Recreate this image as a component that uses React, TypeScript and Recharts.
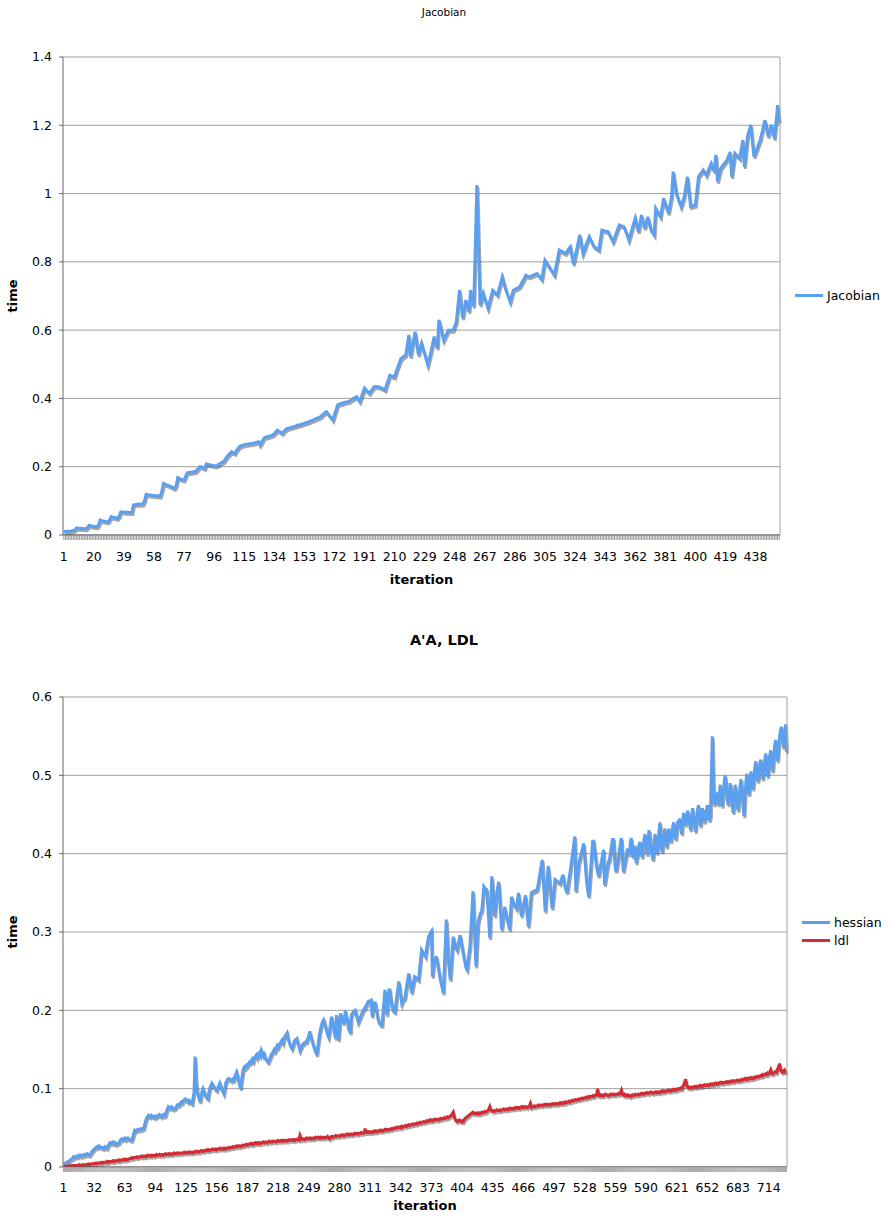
import React from "react";
import { LineChart, Line, XAxis, YAxis, CartesianGrid, Legend } from "recharts";

const FONT = "'DejaVu Sans', Verdana, sans-serif";
const BLUE = "#5a9ff0";
const RED = "#d42a33";

// times in milliseconds, one value per iteration
const jacobianMs = [
  10, 10, 11, 10, 11, 12, 13, 15, 21, 20,
  19, 20, 19, 18, 18, 22, 28, 27, 26, 25,
  25, 24, 30, 44, 42, 41, 40, 39, 39, 45,
  54, 52, 51, 50, 49, 55, 68, 67, 67, 66,
  67, 66, 66, 66, 88, 89, 90, 90, 91, 90,
  91, 100, 119, 118, 117, 117, 116, 116, 115, 115,
  114, 114, 130, 151, 149, 147, 145, 143, 141, 139,
  137, 145, 168, 166, 164, 162, 161, 172, 182, 183,
  184, 184, 185, 185, 190, 195, 200, 199, 197, 195,
  208, 207, 206, 205, 204, 203, 202, 204, 207, 210,
  213, 215, 222, 229, 234, 239, 244, 241, 239, 247,
  253, 259, 261, 263, 264, 266, 266, 267, 267, 268,
  269, 270, 272, 273, 264, 272, 280, 286, 287, 288,
  290, 291, 293, 297, 302, 307, 304, 301, 298, 303,
  308, 312, 313, 314, 316, 317, 318, 320, 322, 322,
  324, 326, 327, 329, 330, 332, 334, 336, 338, 340,
  342, 344, 346, 350, 354, 358, 361, 355, 349, 343,
  337, 352, 366, 381, 383, 385, 386, 388, 389, 390,
  391, 394, 397, 400, 402, 405, 398, 391, 404, 417,
  430, 425, 420, 415, 421, 427, 434, 434, 434, 434,
  432, 430, 428, 425, 440, 454, 468, 466, 464, 463,
  478, 491, 504, 517, 520, 524, 527, 556, 586, 522,
  546, 571, 595, 561, 527, 544, 561, 545, 530, 514,
  498, 517, 537, 559, 581, 564, 547, 630, 611, 591,
  571, 581, 590, 600, 600, 600, 600, 612, 624, 670,
  717, 676, 635, 661, 688, 671, 654, 717, 693, 669,
  847, 1025, 849, 673, 690, 708, 693, 679, 664, 682,
  700, 717, 712, 708, 703, 721, 738, 756, 739, 722,
  709, 696, 683, 700, 717, 719, 722, 724, 727, 735,
  744, 752, 761, 758, 756, 758, 760, 762, 764, 766,
  760, 755, 749, 777, 805, 798, 790, 783, 776, 768,
  761, 786, 810, 835, 832, 830, 827, 825, 831, 838,
  844, 818, 793, 815, 836, 858, 879, 852, 825, 837,
  850, 862, 874, 864, 854, 844, 841, 838, 835, 864,
  893, 892, 890, 889, 888, 878, 869, 859, 871, 884,
  896, 908, 906, 904, 903, 890, 877, 864, 880, 896,
  912, 928, 908, 888, 912, 937, 918, 898, 915, 932,
  912, 893, 886, 879, 957, 949, 940, 932, 959, 986,
  971, 957, 942, 966, 991, 1064, 1032, 1000, 987, 975,
  962, 976, 991, 1020, 1049, 1005, 962, 963, 965, 966,
  1008, 1049, 1056, 1062, 1069, 1062, 1054, 1065, 1077, 1088,
  1076, 1064, 1113, 1035, 1055, 1074, 1080, 1086, 1092, 1098,
  1110, 1122, 1049, 1084, 1118, 1113, 1108, 1103, 1130, 1157,
  1078, 1123, 1167, 1184, 1201, 1155, 1108, 1120, 1132, 1145,
  1157, 1176, 1196, 1215, 1191, 1167, 1184, 1201, 1181, 1161,
  1210, 1259, 1210,
];

const hessianMs = [
  4, 4, 5, 6, 6, 7, 8, 9, 10, 11,
  13, 12, 13, 14, 13, 14, 15, 14, 15, 14,
  15, 16, 15, 16, 17, 16, 15, 16, 18, 20,
  21, 23, 24, 25, 26, 25, 27, 26, 25, 24,
  25, 24, 26, 25, 24, 27, 29, 31, 30, 31,
  32, 30, 31, 29, 30, 30, 31, 33, 35, 36,
  35, 36, 37, 35, 36, 37, 36, 35, 34, 34,
  38, 43, 47, 46, 47, 48, 47, 48, 49, 48,
  49, 49, 54, 59, 62, 64, 66, 65, 64, 66,
  65, 64, 63, 65, 64, 65, 66, 67, 65, 64,
  66, 67, 65, 66, 70, 74, 77, 76, 75, 77,
  76, 74, 75, 75, 77, 79, 80, 79, 81, 83,
  82, 84, 86, 87, 86, 84, 83, 85, 83, 82,
  81, 88, 95, 141, 110, 98, 92, 88, 83, 90,
  96, 100, 97, 93, 90, 88, 87, 95, 101, 104,
  107, 105, 103, 100, 99, 98, 101, 104, 107, 103,
  99, 97, 94, 101, 107, 110, 112, 113, 112, 111,
  110, 112, 111, 114, 118, 121, 116, 110, 105, 100,
  111, 119, 126, 128, 127, 130, 129, 132, 134, 133,
  136, 138, 135, 139, 141, 143, 140, 144, 146, 143,
  149, 146, 142, 144, 139, 137, 135, 134, 137, 140,
  143, 145, 147, 150, 148, 152, 155, 153, 156, 158,
  160, 162, 159, 164, 167, 169, 171, 165, 160, 156,
  153, 151, 155, 159, 162, 163, 164, 158, 154, 149,
  152, 155, 157, 158, 159, 160, 160, 164, 168, 173,
  168, 163, 158, 154, 150, 147, 143, 153, 162, 171,
  177, 182, 186, 188, 184, 179, 173, 169, 166, 174,
  183, 192, 185, 178, 170, 164, 194, 178, 162, 179,
  196, 192, 187, 183, 191, 200, 186, 191, 177, 175,
  171, 194, 196, 198, 199, 200, 194, 190, 185, 188,
  191, 194, 197, 200, 202, 204, 206, 208, 211, 212,
  212, 213, 192, 200, 206, 211, 203, 196, 189, 184,
  183, 181, 181, 196, 211, 226, 210, 194, 210, 226,
  226, 214, 206, 200, 199, 198, 208, 218, 227, 237,
  228, 218, 209, 212, 214, 215, 223, 231, 239, 247,
  238, 230, 222, 229, 236, 243, 242, 241, 240, 239,
  252, 264, 277, 275, 273, 271, 269, 278, 286, 294,
  296, 299, 301, 243, 256, 262, 265, 269, 261, 254,
  246, 239, 233, 228, 222, 253, 284, 316, 290, 265,
  252, 239, 257, 276, 294, 288, 282, 279, 277, 283,
  290, 296, 288, 281, 273, 267, 260, 254, 252, 262,
  273, 283, 306, 329, 352, 320, 288, 256, 284, 311,
  317, 322, 325, 328, 343, 358, 356, 355, 354, 333,
  313, 292, 332, 371, 354, 337, 320, 335, 349, 357,
  364, 344, 323, 303, 313, 322, 332, 326, 320, 314,
  309, 303, 324, 345, 341, 337, 334, 332, 330, 340,
  350, 340, 330, 320, 327, 334, 340, 347, 334, 320,
  307, 321, 336, 350, 351, 351, 352, 353, 353, 354,
  362, 369, 377, 385, 392, 370, 348, 326, 345, 365,
  384, 371, 357, 344, 330, 342, 355, 367, 366, 365,
  364, 363, 362, 366, 369, 373, 365, 358, 354, 350,
  358, 367, 375, 384, 394, 403, 413, 422, 352, 364,
  376, 388, 393, 398, 403, 408, 413, 395, 378, 362,
  353, 345, 362, 380, 398, 416, 416, 405, 394, 383,
  377, 371, 378, 385, 391, 398, 405, 360, 368, 376,
  384, 390, 392, 401, 409, 418, 418, 398, 379, 379,
  387, 395, 404, 412, 420, 398, 377, 384, 391, 398,
  405, 405, 398, 412, 420, 405, 395, 402, 410, 388,
  396, 405, 412, 415, 402, 395, 410, 418, 425, 412,
  398, 415, 430, 420, 405, 398, 392, 410, 425, 418,
  400, 412, 428, 440, 415, 402, 410, 425, 432, 418,
  408, 420, 432, 428, 415, 422, 435, 440, 425, 418,
  430, 442, 438, 445, 432, 425, 440, 452, 448, 436,
  442, 455, 450, 438, 430, 445, 458, 448, 435, 428,
  442, 455, 462, 448, 435, 445, 458, 452, 440, 445,
  455, 462, 450, 442, 448, 500, 550, 490, 462, 470,
  478, 470, 462, 475, 488, 470, 460, 478, 492, 500,
  485, 470, 462, 475, 490, 480, 465, 452, 470, 488,
  478, 462, 455, 470, 485, 495, 480, 462, 448, 475,
  492, 502, 488, 475, 490, 505, 498, 482, 495, 510,
  518, 505, 492, 500, 515, 520, 508, 495, 505, 520,
  528, 512, 498, 510, 525, 532, 515, 505, 522, 538,
  545, 530, 518, 535, 550, 558, 562, 548, 535, 552,
  565, 530,
];

const ldlMs = [
  1, 1, 1, 1, 1, 1, 2, 1, 1, 2,
  2, 2, 2, 2, 2, 2, 3, 2, 2, 3,
  3, 3, 3, 3, 3, 4, 3, 3, 4, 4,
  4, 4, 5, 4, 5, 5, 5, 5, 6, 5,
  6, 6, 6, 6, 7, 6, 7, 7, 7, 7,
  8, 7, 8, 8, 8, 8, 9, 8, 9, 9,
  9, 10, 9, 10, 9, 10, 10, 11, 11, 12,
  11, 12, 12, 12, 13, 12, 13, 13, 13, 14,
  13, 14, 14, 13, 14, 15, 14, 14, 15, 14,
  15, 15, 14, 15, 16, 15, 15, 16, 15, 16,
  16, 15, 16, 17, 16, 16, 17, 16, 17, 17,
  16, 17, 18, 17, 17, 18, 17, 18, 18, 17,
  18, 18, 19, 18, 18, 19, 18, 19, 19, 18,
  19, 18, 19, 20, 19, 20, 20, 19, 20, 21,
  20, 21, 20, 21, 21, 22, 21, 22, 21, 22,
  22, 23, 22, 22, 23, 22, 23, 23, 24, 23,
  23, 24, 23, 24, 23, 24, 24, 25, 24, 25,
  25, 26, 25, 26, 26, 27, 26, 27, 27, 26,
  27, 28, 27, 28, 28, 29, 28, 29, 29, 30,
  29, 30, 29, 30, 31, 30, 31, 30, 31, 30,
  31, 31, 32, 31, 32, 32, 31, 32, 33, 32,
  32, 33, 32, 33, 33, 32, 33, 34, 33, 33,
  34, 33, 34, 33, 34, 34, 33, 34, 35, 34,
  34, 35, 34, 35, 34, 35, 35, 36, 35, 40,
  36, 35, 36, 36, 35, 36, 37, 36, 36, 37,
  36, 37, 37, 36, 37, 38, 37, 37, 38, 37,
  38, 37, 38, 38, 37, 38, 38, 39, 37, 36,
  38, 39, 38, 39, 39, 40, 39, 40, 40, 39,
  40, 41, 40, 41, 40, 41, 42, 41, 42, 41,
  42, 42, 41, 42, 43, 42, 43, 43, 42, 43,
  43, 44, 43, 43, 44, 49, 44, 44, 45, 44,
  45, 45, 44, 45, 46, 45, 46, 45, 46, 46,
  47, 46, 47, 46, 47, 48, 47, 48, 47, 48,
  48, 49, 48, 49, 50, 49, 50, 51, 50, 51,
  51, 50, 52, 51, 52, 52, 53, 52, 53, 54,
  53, 54, 54, 55, 54, 55, 55, 56, 55, 56,
  57, 56, 57, 57, 58, 57, 58, 59, 58, 59,
  60, 59, 60, 59, 60, 61, 60, 61, 61, 60,
  61, 62, 61, 62, 62, 63, 62, 63, 64, 63,
  64, 65, 66, 68, 70, 64, 61, 59, 58, 59,
  60, 59, 58, 59, 58, 60, 62, 63, 64, 65,
  66, 67, 68, 69, 70, 69, 68, 68, 69, 68,
  69, 68, 69, 70, 69, 70, 71, 70, 71, 72,
  74, 77, 73, 72, 71, 72, 71, 72, 73, 72,
  72, 73, 72, 73, 73, 74, 73, 74, 74, 73,
  74, 75, 74, 75, 75, 74, 75, 76, 75, 76,
  76, 75, 76, 77, 76, 77, 76, 77, 77, 76,
  77, 78, 81, 76, 77, 77, 78, 77, 78, 78,
  79, 78, 79, 79, 78, 79, 80, 79, 80, 79,
  80, 80, 79, 80, 81, 80, 81, 80, 81, 81,
  80, 81, 82, 81, 82, 81, 82, 83, 82, 83,
  83, 84, 83, 84, 85, 84, 85, 86, 85, 86,
  86, 87, 86, 87, 88, 87, 88, 88, 89, 88,
  89, 90, 89, 90, 90, 91, 90, 91, 92, 92,
  100, 92, 91, 92, 91, 92, 91, 92, 93, 92,
  92, 91, 92, 93, 92, 93, 92, 93, 92, 93,
  93, 94, 93, 95, 98, 93, 92, 93, 91, 92,
  91, 92, 91, 90, 91, 92, 91, 92, 93, 92,
  92, 93, 92, 93, 94, 93, 94, 93, 94, 95,
  94, 95, 94, 95, 96, 95, 94, 95, 96, 95,
  96, 95, 96, 95, 96, 97, 96, 97, 96, 97,
  97, 98, 97, 98, 97, 98, 99, 98, 99, 98,
  99, 100, 99, 100, 101, 100, 102, 105, 108, 112,
  105, 102, 101, 102, 101, 102, 101, 102, 103, 102,
  103, 102, 103, 104, 103, 104, 103, 104, 105, 104,
  104, 105, 104, 105, 106, 105, 106, 105, 106, 107,
  106, 107, 106, 107, 108, 107, 108, 107, 108, 108,
  109, 108, 109, 108, 109, 110, 109, 110, 109, 110,
  110, 111, 110, 111, 110, 111, 112, 111, 112, 113,
  112, 113, 112, 113, 114, 113, 114, 113, 114, 115,
  114, 115, 116, 115, 116, 117, 116, 118, 117, 118,
  119, 118, 120, 119, 121, 124, 120, 119, 120, 121,
  122, 121, 125, 128, 132, 124, 122, 121, 123, 124,
  121, 120,
];

const topYTicks = [0, 0.2, 0.4, 0.6, 0.8, 1, 1.2, 1.4];
const bottomYTicks = [0, 0.1, 0.2, 0.3, 0.4, 0.5, 0.6];
const topLabelStep = 19;
const bottomLabelStep = 31;

const jacobianData = jacobianMs.map((v, i) => ({ iteration: i + 1, Jacobian: v / 1000 }));
const ldlData = hessianMs.map((v, i) => ({ iteration: i + 1, hessian: v / 1000, ldl: ldlMs[i] / 1000 }));

const makeTick = (step: number) => (props: any) => {
  const { x, y, payload } = props;
  if ((payload.value - 1) % step !== 0) return <g />;
  return (
    <text x={x} y={y} dy="0.71em" textAnchor="middle" fontSize={12.5} fill="#000" fontFamily={FONT}>
      {payload.value}
    </text>
  );
};

const LegendContent = (props: any) => {
  const { payload } = props;
  return (
    <div style={{ fontFamily: FONT, fontSize: 12.5, color: "#000", width: "max-content" }}>
      {(payload || []).map((p: any) => (
        <div key={p.value} style={{ display: "flex", alignItems: "center", height: 18.5, whiteSpace: "nowrap" }}>
          <span style={{ display: "inline-block", flexShrink: 0, width: 28, height: 3, background: p.color, marginRight: 4 }} />
          <span>{p.value}</span>
        </div>
      ))}
    </div>
  );
};

const axisTitle = { fontFamily: FONT, fontSize: 13, fontWeight: "bold", fill: "#000" };

export default function App() {
  return (
    <div style={{ position: "relative", width: 888, height: 1220, fontFamily: FONT }}>
      <style>{`body{margin:0} .recharts-line-curve{filter:drop-shadow(1px 2px 0px rgba(0,0,0,0.35));}`}</style>

      <div style={{ position: "absolute", top: 6, left: 0, width: 888, textAlign: "center", fontSize: 10.5, lineHeight: "12px" }}>
        Jacobian
      </div>
      <div style={{ position: "absolute", top: 0, left: 0 }}>
        <LineChart width={888} height={600} data={jacobianData} margin={{ top: 57, right: 107, bottom: 10, left: 0 }}>
          <CartesianGrid vertical={false} stroke="#a0a0a0" />
          <XAxis
            dataKey="iteration"
            interval={0}
            height={55}
            padding={{ left: 0.8, right: 0.8 }}
            tick={makeTick(topLabelStep)}
            tickSize={5}
            tickMargin={12}
            tickLine={{ stroke: "#999" }}
            axisLine={{ stroke: "#555" }}
            label={{ value: "iteration", position: "insideBottom", offset: 6, style: axisTitle }}
          />
          <YAxis
            width={63}
            domain={[0, 1.4]}
            ticks={topYTicks}
            tickSize={4}
            tickMargin={7}
            tick={{ fontSize: 12.5, fill: "#000", fontFamily: FONT }}
            tickLine={{ stroke: "#666" }}
            axisLine={{ stroke: "#666" }}
            label={{ value: "time", angle: -90, position: "insideLeft", offset: 12, textAnchor: "middle", style: axisTitle }}
          />
          <YAxis yAxisId="frame" orientation="right" width={1} domain={[0, 1.4]} tick={false} tickLine={false} axisLine={{ stroke: "#a0a0a0" }} />
          <Legend
            content={<LegendContent />}
            wrapperStyle={{ position: "absolute", left: 795, top: 286, width: 0, height: 0, overflow: "visible" }}
          />
          <Line dataKey="Jacobian" stroke={BLUE} strokeWidth={3} dot={false} type="linear" isAnimationActive={false} />
        </LineChart>
      </div>

      <div style={{ position: "absolute", top: 632, left: 0, width: 888, textAlign: "center", fontSize: 14.5, fontWeight: "bold", lineHeight: "16px" }}>
        A'A, LDL
      </div>
      <div style={{ position: "absolute", top: 600, left: 0 }}>
        <LineChart width={888} height={620} data={ldlData} margin={{ top: 97, right: 100, bottom: 8, left: 0 }}>
          <CartesianGrid vertical={false} stroke="#a0a0a0" />
          <XAxis
            dataKey="iteration"
            interval={0}
            height={45}
            padding={{ left: 0.5, right: 0.5 }}
            tick={makeTick(bottomLabelStep)}
            tickSize={5}
            tickMargin={11}
            tickLine={{ stroke: "#aaa" }}
            axisLine={{ stroke: "#555" }}
            label={{ value: "iteration", position: "insideBottom", offset: 2, style: axisTitle }}
          />
          <YAxis
            width={63}
            domain={[0, 0.6]}
            ticks={bottomYTicks}
            tickSize={4}
            tickMargin={7}
            tick={{ fontSize: 12.5, fill: "#000", fontFamily: FONT }}
            tickLine={{ stroke: "#666" }}
            axisLine={{ stroke: "#666" }}
            label={{ value: "time", angle: -90, position: "insideLeft", offset: 12, textAnchor: "middle", style: axisTitle }}
          />
          <YAxis yAxisId="frame" orientation="right" width={1} domain={[0, 0.6]} tick={false} tickLine={false} axisLine={{ stroke: "#a0a0a0" }} />
          <Legend
            content={<LegendContent />}
            wrapperStyle={{ position: "absolute", left: 802, top: 313, width: 0, height: 0, overflow: "visible" }}
          />
          <Line dataKey="hessian" stroke={BLUE} strokeWidth={3} dot={false} type="linear" isAnimationActive={false} />
          <Line dataKey="ldl" stroke={RED} strokeWidth={3} dot={false} type="linear" isAnimationActive={false} />
        </LineChart>
      </div>
    </div>
  );
}
